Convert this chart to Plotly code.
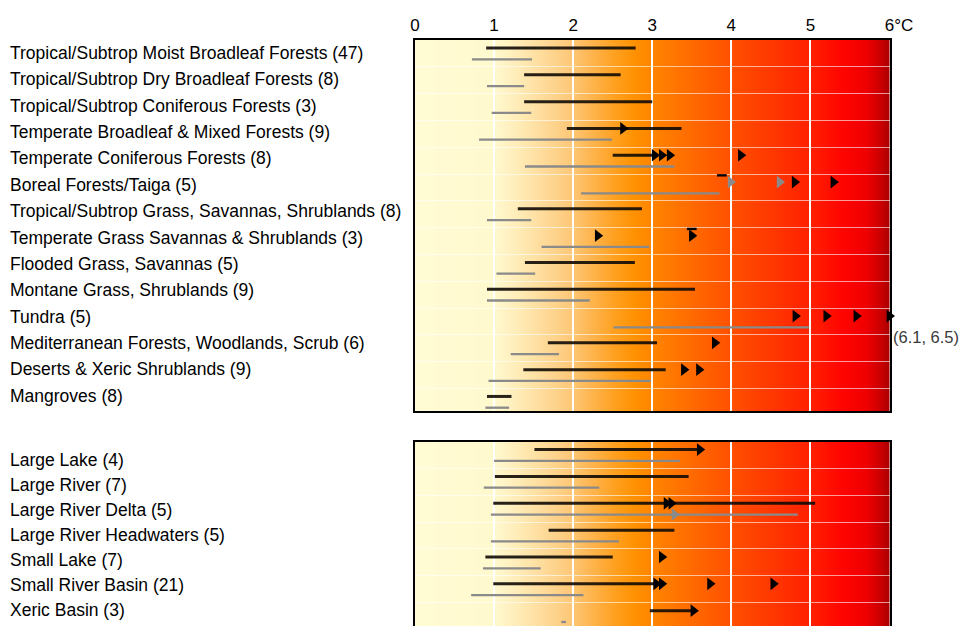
import base64
import struct
import zlib
import plotly.graph_objects as go

W, H = 962, 626

# ---------------- data (°C) ----------------
biomes = [
    "Tropical/Subtrop Moist Broadleaf Forests (47)",
    "Tropical/Subtrop Dry Broadleaf Forests (8)",
    "Tropical/Subtrop Coniferous Forests (3)",
    "Temperate Broadleaf & Mixed Forests (9)",
    "Temperate Coniferous Forests (8)",
    "Boreal Forests/Taiga (5)",
    "Tropical/Subtrop Grass, Savannas, Shrublands (8)",
    "Temperate Grass Savannas & Shrublands (3)",
    "Flooded Grass, Savannas (5)",
    "Montane Grass, Shrublands (9)",
    "Tundra (5)",
    "Mediterranean Forests, Woodlands, Scrub (6)",
    "Deserts & Xeric Shrublands (9)",
    "Mangroves (8)",
]
biome_black_lo = [0.90, 1.38, 1.38, 1.92, 2.50, None, 1.30, None, 1.39, 0.91, None, 1.68, 1.37, 0.91]
biome_black_hi = [2.79, 2.60, 3.00, 3.37, 3.03, None, 2.87, None, 2.78, 3.54, None, 3.06, 3.17, 1.22]
biome_gray_lo = [0.72, 0.91, 0.97, 0.81, 1.39, 2.10, 0.91, 1.60, 1.03, 0.91, 2.51, 1.21, 0.93, 0.89]
biome_gray_hi = [1.48, 1.38, 1.47, 2.49, 3.28, 3.85, 1.47, 2.96, 1.52, 2.21, 4.98, 1.82, 2.98, 1.19]
biome_black_arrows = [[], [], [], [2.63], [3.03, 3.12, 3.22, 4.12], [4.80, 5.29], [],
                      [2.31, 3.50], [], [], [4.81, 5.20, 5.58, 6.0], [3.79], [3.40, 3.59], []]
biome_gray_arrows_top = [[], [], [], [], [], [3.99, 4.61], [], [], [], [], [], [], [], []]
biome_dashes = [[], [], [], [], [], [3.88], [], [3.50], [], [], [], [], [], []]
tundra_offscale = "(6.1, 6.5)"

freshwater = [
    "Large Lake (4)",
    "Large River (7)",
    "Large River Delta (5)",
    "Large River Headwaters (5)",
    "Small Lake (7)",
    "Small River Basin (21)",
    "Xeric Basin (3)",
]
fw_black_lo = [1.51, 1.01, 0.99, 1.69, 0.89, 0.99, 2.97]
fw_black_hi = [3.60, 3.46, 5.06, 3.28, 2.50, 3.05, 3.52]
fw_gray_lo = [1.00, 0.87, 0.96, 0.96, 0.86, 0.71, 1.85]
fw_gray_hi = [3.35, 2.33, 4.84, 2.58, 1.59, 2.13, 1.91]
fw_black_arrows = [[3.60], [], [3.18, 3.24], [], [3.12], [3.05, 3.12, 3.73, 4.53], [3.52]]
fw_gray_arrows = [[], [], [3.28], [], [], [], []]

x_tickvals = [0, 1, 2, 3, 4, 5, 6]
x_ticktext = ["0", "1", "2", "3", "4", "5", "\u00a0\u00a0\u00a0\u00a06°C"]

# ---------------- background gradient (styling) ----------------
grad_stops = [
    (0.00, (255, 251, 211)), (1.00, (255, 249, 206)), (1.15, (255, 243, 196)),
    (1.50, (254, 226, 166)), (2.00, (253, 198, 117)), (2.50, (255, 162, 36)),
    (2.80, (255, 144, 0)), (3.20, (255, 122, 0)), (4.00, (255, 80, 0)),
    (5.00, (255, 32, 0)), (5.40, (255, 5, 0)), (5.70, (240, 0, 0)),
    (5.90, (200, 0, 0)), (6.00, (168, 0, 0)),
]


def grad_color(v):
    for (a, ca), (b, cb) in zip(grad_stops[:-1], grad_stops[1:]):
        if a <= v <= b:
            t = (v - a) / (b - a) if b > a else 0
            return tuple(int(round(ca[i] + (cb[i] - ca[i]) * t)) for i in range(3))
    return grad_stops[-1][1]


def gradient_png(width=960):
    row = bytearray([0])
    for i in range(width):
        row.extend(grad_color((i + 0.5) / width * 6))
    raw = bytes(row) * 2

    def chunk(tag, data):
        c = struct.pack(">I", len(data)) + tag + data
        return c + struct.pack(">I", zlib.crc32(tag + data) & 0xFFFFFFFF)
    png = b"\x89PNG\r\n\x1a\n"
    png += chunk(b"IHDR", struct.pack(">IIBBBBB", width, 2, 8, 2, 0, 0, 0))
    png += chunk(b"IDAT", zlib.compress(raw, 9))
    png += chunk(b"IEND", b"")
    return "data:image/png;base64," + base64.b64encode(png).decode()


# ---------------- geometry ----------------
X0, X1 = 415.0, 889.5          # pixel extent of 0..6
TOP_Y0, TOP_Y1 = 40.0, 411.0   # top panel pixel extent
TOP_ROW = 26.8
BOT_Y0 = 441.5
BOT_ROW = 26.86
OFF_B, OFF_G = -0.2, 0.22      # offsets of black / gray bars within a row

BLACK = "rgba(15,10,5,0.9)"
GRAY = "#8a8a8a"
FONT = "Liberation Sans, Arial, sans-serif"

fig = go.Figure()


def add_panel(xa, ya, lo_b, hi_b, lo_g, hi_g, arrows_b, arrows_g_top=None, arrows_g_low=None, dashes=None):
    xs, ys = [], []
    for k, (a, b) in enumerate(zip(lo_b, hi_b)):
        if a is not None:
            xs += [a, b, None]
            ys += [k + OFF_B, k + OFF_B, None]
    fig.add_trace(go.Scatter(x=xs, y=ys, mode="lines", line=dict(color=BLACK, width=3),
                             xaxis=xa, yaxis=ya, hoverinfo="skip", showlegend=False))
    xs, ys = [], []
    for k, (a, b) in enumerate(zip(lo_g, hi_g)):
        if a is not None:
            xs += [a, b, None]
            ys += [k + OFF_G, k + OFF_G, None]
    fig.add_trace(go.Scatter(x=xs, y=ys, mode="lines", line=dict(color=GRAY, width=2.3),
                             xaxis=xa, yaxis=ya, hoverinfo="skip", showlegend=False))

    def markers(lists, off, color, symbol, size, lw=0):
        xs, ys = [], []
        for k, vals in enumerate(lists):
            for v in vals:
                xs.append(v)
                ys.append(k + off)
        if not xs:
            return
        fig.add_trace(go.Scatter(x=xs, y=ys, mode="markers", cliponaxis=False,
                                 marker=dict(symbol=symbol, size=size, color=color,
                                             line=dict(width=lw, color=color)),
                                 xaxis=xa, yaxis=ya, hoverinfo="skip", showlegend=False))

    if arrows_g_top:
        markers(arrows_g_top, OFF_B, GRAY, "triangle-right", 11)
    if arrows_g_low:
        markers(arrows_g_low, OFF_G, GRAY, "triangle-right", 11)
    markers(arrows_b, OFF_B, "black", "triangle-right", 11)
    if dashes:
        markers(dashes, OFF_B - 0.25, "black", "line-ew", 7, 2.4)


add_panel("x", "y", biome_black_lo, biome_black_hi, biome_gray_lo, biome_gray_hi,
          biome_black_arrows, arrows_g_top=biome_gray_arrows_top, dashes=biome_dashes)
add_panel("x2", "y2", fw_black_lo, fw_black_hi, fw_gray_lo, fw_gray_hi,
          fw_black_arrows, arrows_g_low=fw_gray_arrows)

xdom = [X0 / W, X1 / W]
top_dom = [1 - TOP_Y1 / H, 1 - TOP_Y0 / H]
bot_dom = [0, 1 - BOT_Y0 / H]
top_range = [-0.5 + (TOP_Y1 - TOP_Y0) / TOP_ROW, -0.5]
bot_range = [-0.5 + (H - BOT_Y0) / BOT_ROW, -0.5]

common_x = dict(range=[0, 6], tickvals=x_tickvals, showgrid=True, gridcolor="white", gridwidth=2,
                zeroline=False, ticks="", showline=True, linecolor="black", linewidth=2, domain=xdom,
                fixedrange=True, automargin=False)
common_y = dict(showticklabels=False, showgrid=True, gridcolor="rgba(255,255,255,0.6)", gridwidth=1,
                zeroline=False, ticks="", showline=True, linecolor="black", linewidth=2, mirror=True,
                fixedrange=True, automargin=False)

fig.update_layout(
    width=W, height=H, autosize=False,
    margin=dict(l=0, r=0, t=0, b=0, pad=0, autoexpand=False),
    paper_bgcolor="white", plot_bgcolor="rgba(0,0,0,0)",
    showlegend=False,
    font=dict(family=FONT, color="black"),
    xaxis=dict(common_x, side="top", ticktext=x_ticktext, mirror=True, anchor="y",
               tickfont=dict(size=17, color="black"), ticklabelstandoff=0),
    yaxis=dict(common_y, domain=top_dom, range=top_range, anchor="x",
               tickvals=[k + 0.5 for k in range(len(biomes) - 1)]),
    xaxis2=dict(common_x, side="top", showticklabels=False, mirror=False, anchor="y2"),
    yaxis2=dict(common_y, domain=bot_dom, range=bot_range, anchor="x2",
                tickvals=[k + 0.5 for k in range(len(freshwater) - 1)]),
)

img = gradient_png()
fig.add_layout_image(dict(source=img, xref="paper", yref="paper", x=xdom[0], y=top_dom[1],
                          sizex=xdom[1] - xdom[0], sizey=top_dom[1] - top_dom[0],
                          sizing="stretch", xanchor="left", yanchor="top", layer="below"))
fig.add_layout_image(dict(source=img, xref="paper", yref="paper", x=xdom[0], y=bot_dom[1],
                          sizex=xdom[1] - xdom[0], sizey=bot_dom[1] - bot_dom[0],
                          sizing="stretch", xanchor="left", yanchor="top", layer="below"))

# row labels (left aligned)
annotations = []
for k, name in enumerate(biomes):
    ypx = 53.0 + 26.36 * k
    annotations.append(dict(text=name, xref="paper", yref="paper", x=8 / W, y=1 - ypx / H,
                            xanchor="left", yanchor="middle", showarrow=False,
                            font=dict(size=17.5, family=FONT, color="#000000")))
for k, name in enumerate(freshwater):
    ypx = 460.0 + 25.0 * k
    annotations.append(dict(text=name, xref="paper", yref="paper", x=8 / W, y=1 - ypx / H,
                            xanchor="left", yanchor="middle", showarrow=False,
                            font=dict(size=17.5, family=FONT, color="#000000")))
annotations.append(dict(text=tundra_offscale, xref="x", yref="y", x=6, y=biomes.index("Tundra (5)") + 0.58,
                        xanchor="left", yanchor="middle", xshift=1, showarrow=False,
                        font=dict(size=16.5, family=FONT, color="#3a3a3a")))
fig.update_layout(annotations=annotations)

fig.write_html("out.html", config={"displayModeBar": False},
               post_script="document.body.style.margin='0px';document.body.style.overflow='hidden';")
